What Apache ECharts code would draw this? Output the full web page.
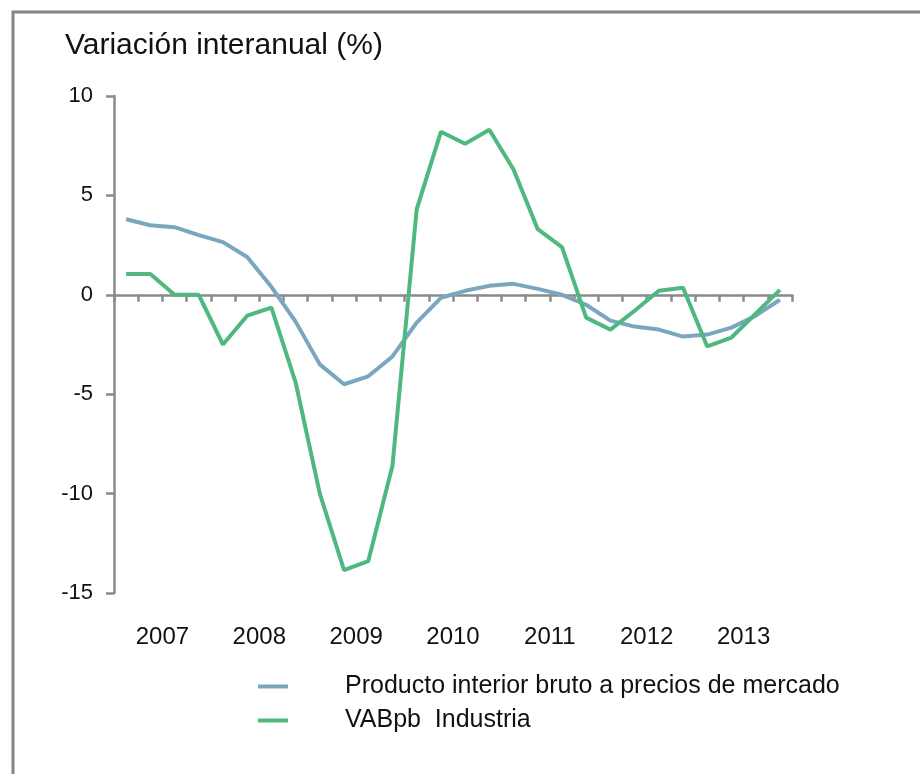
<!DOCTYPE html>
<html>
<head>
<meta charset="utf-8">
<script src="https://cdn.jsdelivr.net/npm/echarts@6/dist/echarts.min.js"></script>
<style>
  html, body { margin: 0; padding: 0; background: #fff; }
  #container { width: 920px; height: 774px; }
</style>
</head>
<body>
<div id="container"></div>
<script>
  // trimestres 2007T1 .. 2013T4
  var quarters = [
    '2007T1', '2007T2', '2007T3', '2007T4',
    '2008T1', '2008T2', '2008T3', '2008T4',
    '2009T1', '2009T2', '2009T3', '2009T4',
    '2010T1', '2010T2', '2010T3', '2010T4',
    '2011T1', '2011T2', '2011T3', '2011T4',
    '2012T1', '2012T2', '2012T3', '2012T4',
    '2013T1', '2013T2', '2013T3', '2013T4'
  ];
  var years = ['2007', '2008', '2009', '2010', '2011', '2012', '2013'];

  var pib = [3.8, 3.5, 3.4, 3.0, 2.65, 1.9, 0.4, -1.35,
    -3.5, -4.5, -4.1, -3.1, -1.4, -0.15, 0.2, 0.45,
    0.55, 0.3, 0.0, -0.5, -1.3, -1.6, -1.75, -2.1,
    -2.0, -1.65, -1.05, -0.25];
  var industria = [1.05, 1.05, 0, 0, -2.5, -1.05, -0.65, -4.4,
    -10.0, -13.85, -13.4, -8.6, 4.3, 8.2, 7.6, 8.3,
    6.3, 3.3, 2.4, -1.15, -1.75, -0.8, 0.2, 0.35,
    -2.6, -2.15, -0.95, 0.25];

  var axisColor = '#8a8a8a';
  var font = 'Liberation Sans, Arial, sans-serif';

  var myChart = echarts.init(document.getElementById('container'));
  var option = {
    animation: false,
    backgroundColor: '#fff',
    title: {
      text: 'Variación interanual (%)',
      left: 65,
      top: 31,
      padding: 0,
      textStyle: { fontFamily: font, fontSize: 30, fontWeight: 'normal', color: '#111' }
    },
    graphic: [{
      type: 'rect',
      shape: { x: 13, y: 12, width: 940, height: 800 },
      style: { fill: 'none', stroke: '#858585', lineWidth: 3 },
      silent: true
    }],
    legend: {
      orient: 'vertical',
      left: 253,
      top: 669,
      icon: 'rect',
      itemWidth: 30,
      itemHeight: 4,
      itemGap: 9,
      data: ['Producto interior bruto a precios de mercado', 'VABpb  Industria'],
      textStyle: { fontFamily: font, fontSize: 25, color: '#111', lineHeight: 25, padding: [0, 0, 0, 52] }
    },
    grid: { left: 114, right: 128, top: 96, bottom: 181 },
    xAxis: [{
      type: 'category',
      data: quarters,
      boundaryGap: true,
      axisLine: { onZero: true, lineStyle: { color: axisColor, width: 2.5 } },
      axisTick: { show: true, interval: 0, length: 7, lineStyle: { color: axisColor, width: 2.5 } },
      axisLabel: { show: false },
      splitLine: { show: false }
    }, {
      type: 'category',
      data: years,
      position: 'bottom',
      boundaryGap: true,
      axisLine: { show: false, onZero: false },
      axisTick: { show: false },
      axisLabel: { margin: 32, fontFamily: font, fontSize: 24, color: '#111' },
      splitLine: { show: false }
    }],
    yAxis: {
      type: 'value',
      min: -15,
      max: 10,
      interval: 5,
      axisLine: { show: true, lineStyle: { color: axisColor, width: 2.5 } },
      axisTick: { show: true, length: 8, lineStyle: { color: axisColor, width: 2.5 } },
      axisLabel: { margin: 21, fontFamily: font, fontSize: 22, color: '#111' },
      splitLine: { show: false }
    },
    series: [{
      name: 'Producto interior bruto a precios de mercado',
      type: 'line',
      data: pib,
      symbol: 'none',
      lineStyle: { color: '#7aa7bf', width: 4 },
      itemStyle: { color: '#7aa7bf' }
    }, {
      name: 'VABpb  Industria',
      type: 'line',
      data: industria,
      symbol: 'none',
      lineStyle: { color: '#4fb87f', width: 4 },
      itemStyle: { color: '#4fb87f' }
    }]
  };
  myChart.setOption(option);
</script>
</body>
</html>
